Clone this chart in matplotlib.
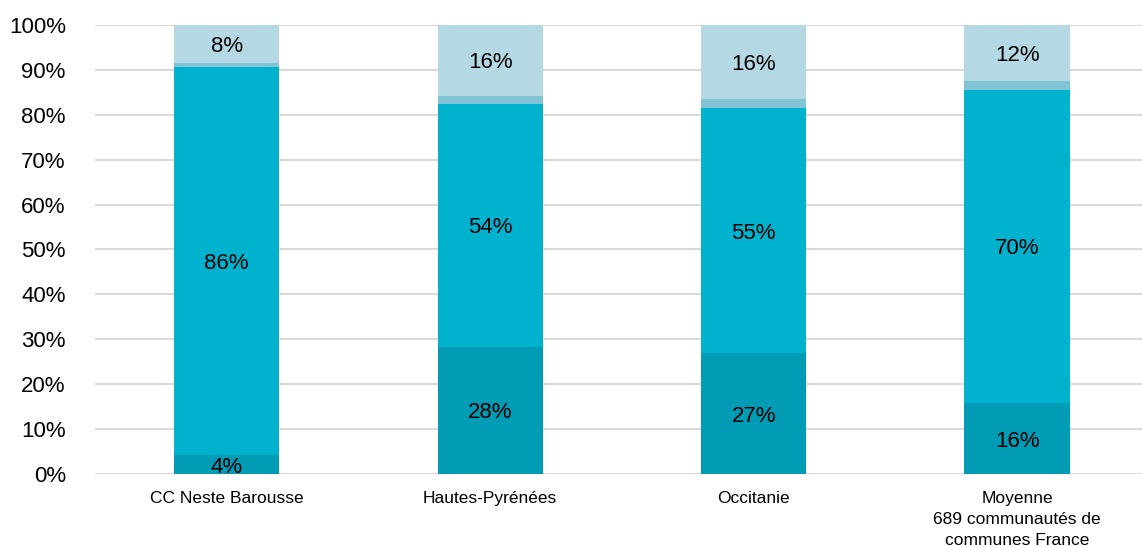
import matplotlib
matplotlib.use("Agg")
import matplotlib.pyplot as plt
import numpy as np

plt.rcParams['font.family'] = ['Liberation Sans', 'DejaVu Sans']

categories = ["CC Neste Barousse", "Hautes-Pyrénées", "Occitanie",
              "Moyenne\n689 communautés de\ncommunes France"]
seg_dark = [4.2, 28.3, 26.9, 15.8]
seg_mid = [86.5, 54.1, 54.6, 69.8]
seg_thin = [0.9, 1.8, 2.1, 2.0]
seg_top = [8.4, 15.8, 16.4, 12.4]
yticks = [0, 10, 20, 30, 40, 50, 60, 70, 80, 90, 100]

colors = ["#009bb4", "#00b2cd", "#80c4d6", "#b4d9e4"]
segments = [seg_dark, seg_mid, seg_thin, seg_top]
labelled = [True, True, False, True]

fig = plt.figure(figsize=(11.42, 5.47), dpi=100)
ax = fig.add_axes([0.0832, 0.1335, 1.006 - 0.0832, 0.9543 - 0.1335])

x = np.arange(len(categories))
bottom = np.zeros(len(categories))
for seg, col, lab in zip(segments, colors, labelled):
    seg = np.array(seg)
    ax.bar(x, seg, 0.4, bottom=bottom, color=col, zorder=2, linewidth=0)
    if lab:
        for xi, b, v in zip(x, bottom, seg):
            ax.text(xi, b + v / 2, f"{v:.0f}%", ha='center',
                    va='center_baseline', fontsize=16, color='black', zorder=3)
    bottom += seg

ax.set_xlim(-0.5, 3.5)
ax.set_ylim(0, 100)
ax.set_yticks(yticks)
ax.set_yticklabels([f"{t}%" for t in yticks], fontsize=16)
ax.set_xticks(x)
ax.set_xticklabels(categories, fontsize=12.5, linespacing=1.5)
ax.tick_params(axis='both', length=0)
ax.tick_params(axis='y', pad=21)
ax.tick_params(axis='x', pad=12)
ax.yaxis.grid(True, color='#d9d9d9', linewidth=1.5, zorder=0)
ax.set_axisbelow(True)
for s in ax.spines.values():
    s.set_visible(False)

fig.savefig("out.png", dpi=100)
